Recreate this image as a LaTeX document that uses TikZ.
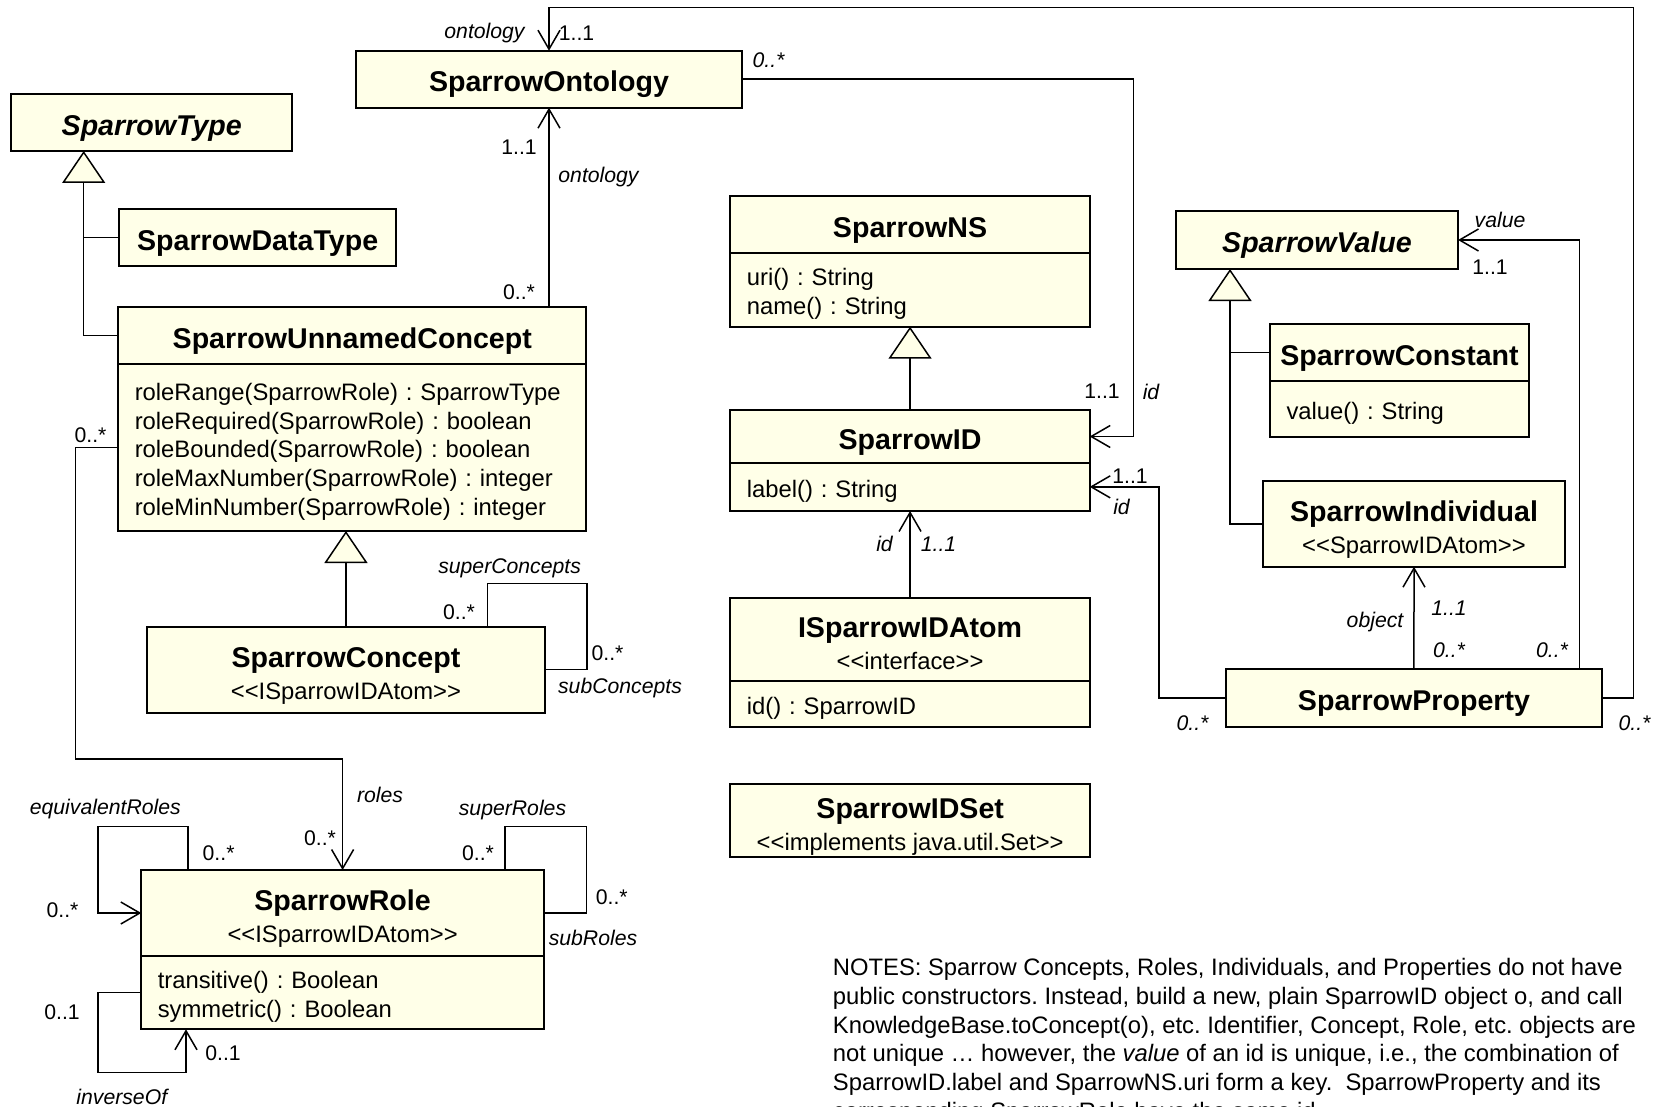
\documentclass[tikz,border=0pt]{standalone}
\usepackage{fontspec}
\setmainfont{Liberation Sans}[Ligatures=TeXOff]
\usetikzlibrary{arrows.meta,positioning}
\definecolor{umlfill}{RGB}{255,255,232}
\newcommand{\umlstereo}[1]{{\fontsize{11.9}{16}\selectfont\mdseries #1}}
\frenchspacing

\begin{document}
\begin{tikzpicture}[x=0.5pt,y=-0.5pt,
    cls/.style={draw,line width=1pt,fill=umlfill,inner sep=0pt,outer sep=0pt,text height=15.7pt,align=center,font=\fontsize{14.3}{16}\selectfont\bfseries},
    cls2/.style={cls,text height=32.3pt},
    ops/.style={draw,line width=1pt,fill=umlfill,inner xsep=8.25pt,inner ysep=0pt,outer sep=0pt,text height=12.8pt,align=left,font=\fontsize{11.9}{14.375}\selectfont},
    conn/.style={line width=0.75pt},
    assoc/.style={conn,-{Straight Barb[length=9.5pt,width=11pt]}},
    gen/.style={conn,-{Triangle[length=16pt,width=21.5pt,fill=umlfill]}},
    uplbl/.style={inner sep=0pt,font=\fontsize{10.6}{12}\selectfont},
    itlbl/.style={inner sep=0pt,font=\fontsize{10.6}{12}\selectfont\itshape}]
    \useasboundingbox (0,0) rectangle (1653,1107);

    \node[cls,minimum width=193.35pt,minimum height=28.5pt] (Ont) at (549,79.2) {SparrowOntology};
    \node[cls,minimum width=140.55pt,minimum height=28.65pt] (Type) at (151.75,122.35) {\itshape SparrowType};
    \node[cls,minimum width=138.75pt,minimum height=28.5pt] (DataType) at (257.65,237.5) {SparrowDataType};
    \node[cls,minimum width=233.95pt,minimum height=28.35pt] (Unnamed) at (352.25,335.65) {SparrowUnnamedConcept};
    \node[ops,below=0pt of Unnamed,text width=217.45pt,minimum height=83.5pt] (UnnamedOps) {roleRange(SparrowRole) : SparrowType\\roleRequired(SparrowRole) : boolean\\roleBounded(SparrowRole) : boolean\\roleMaxNumber(SparrowRole) : integer\\roleMinNumber(SparrowRole) : integer};
    \node[cls2,minimum width=198.65pt,minimum height=43pt] (Concept) at (345.95,669.7) {SparrowConcept\\\umlstereo{<<ISparrowIDAtom>>}};
    \node[cls2,minimum width=201.3pt,minimum height=43pt] (Role) at (342.6,913) {SparrowRole\\\umlstereo{<<ISparrowIDAtom>>}};
    \node[ops,below=0pt of Role,text width=184.8pt,minimum height=36.65pt] (RoleOps) {transitive() : Boolean\\symmetric() : Boolean};

    \node[cls,minimum width=179.65pt,minimum height=28.65pt] (NS) at (910.05,224.65) {SparrowNS};
    \node[ops,below=0pt of NS,text width=163.15pt,minimum height=36.7pt] (NSOps) {uri() : String\\name() : String};
    \node[cls,minimum width=179.65pt,minimum height=26.2pt] (ID) at (910.05,436.5) {SparrowID};
    \node[ops,below=0pt of ID,text width=163.15pt,minimum height=24.15pt] (IDOps) {label() : String};
    \node[cls2,minimum width=179.65pt,minimum height=41.65pt,text height=30.7pt] (Atom) at (910.05,639.35) {ISparrowIDAtom\\\umlstereo{<<interface>>}};
    \node[ops,below=0pt of Atom,text width=163.15pt,minimum height=22.85pt] (AtomOps) {id() : SparrowID};
    \node[cls2,minimum width=179.8pt,minimum height=36.65pt] (IDSet) at (910.2,820.65) {SparrowIDSet\\\umlstereo{<<implements java.util.Set>>}};

    \node[cls,minimum width=141pt,minimum height=29pt] (Value) at (1317,240) {\itshape SparrowValue};
    \node[cls,minimum width=129.5pt,minimum height=28.5pt] (Constant) at (1399.5,352.5) {SparrowConstant};
    \node[ops,below=0pt of Constant,text width=113pt,minimum height=28.15pt] (ConstantOps) {value() : String};
    \node[cls2,minimum width=151pt,minimum height=42.85pt] (Indiv) at (1414,523.85) {SparrowIndividual\\\umlstereo{<<SparrowIDAtom>>}};
    \node[cls,minimum width=187.55pt,minimum height=28.7pt] (Prop) at (1413.95,698) {SparrowProperty};

    \coordinate (TypeFoot) at (83.7,151);
    \coordinate (ValueFoot) at (1230,269);
    \coordinate (IDLane) at (1133.4,0);
    \coordinate (PropLane) at (1159,0);
    \coordinate (ValueLane) at (1579.6,0);
    \coordinate (TopRight) at (1633.7,7.3);
    \coordinate (RoleBend) at (75.5,759);
    \coordinate (SupCA) at (487.5,583.3);
    \coordinate (SupCB) at (587,583.3);
    \coordinate (EqA) at (187.8,826.7);
    \coordinate (EqB) at (98,826.7);
    \coordinate (SupRA) at (505,826.7);
    \coordinate (SupRB) at (586.7,826.7);
    \coordinate (InvA) at (98,1072.3);
    \coordinate (InvB) at (186,1072.3);

    \draw[gen] (Unnamed.west) -| (TypeFoot);
    \draw[conn] (DataType.west) -- (DataType.west -| TypeFoot);
    \draw[gen] (Concept.north) -- (Concept.north |- UnnamedOps.south);
    \draw[assoc] (Unnamed.north -| Ont.south) -- (Ont.south);
    \draw[assoc] (Prop.east) -| (TopRight) -| (Ont.north);
    \draw[assoc] (Ont.east) -| (IDLane |- ID.east) -- (ID.east);
    \draw[assoc] (Prop.west) -| (PropLane |- IDOps.east) -- (IDOps.east);
    \draw[assoc] (Atom.north) -- (IDOps.south);
    \draw[gen] (ID.north) -- (NSOps.south);
    \draw[gen] (Indiv.west) -| (ValueFoot);
    \draw[conn] (Constant.west) -- (Constant.west -| ValueFoot);
    \draw[assoc] (Prop.north) -- (Indiv.south);
    \draw[assoc] (Prop.north -| ValueLane) |- (Value.east);
    \draw[assoc] (UnnamedOps.west) -| (RoleBend) -| (Role.north);
    \draw[conn] (Concept.north -| SupCA) -- (SupCA) -- (SupCB) |- (Concept.east);
    \draw[assoc] (Role.north -| EqA) -- (EqA) -- (EqB) |- (Role.west);
    \draw[conn] (Role.north -| SupRA) -- (SupRA) -- (SupRB) |- (Role.east);
    \draw[assoc] (RoleOps.west) -| (InvA) -- (InvB) -- (InvB |- RoleOps.south);

    \node[itlbl] (OntTopRole) at (484.5,33) {ontology};
    \node[uplbl] (OntTopMult) at (576.5,33) {1..1};
    \node[itlbl] (OntRightMult) at (768.5,60) {0..*};
    \node[uplbl] (OntBotMult) at (519,147) {1..1};
    \node[itlbl] (OntBotRole) at (598.5,177) {ontology};
    \node[uplbl] (UnnamedTopMult) at (519,292) {0..*};
    \node[uplbl] (UnnamedLeftMult) at (90.5,435) {0..*};
    \node[itlbl] (SupCRole) at (509.6,568) {superConcepts};
    \node[uplbl] (SupCMult) at (459,611.7) {0..*};
    \node[uplbl] (SubCMult) at (607.5,653) {0..*};
    \node[itlbl] (SubCRole) at (620,688) {subConcepts};
    \node[itlbl] (RolesRole) at (380,795) {roles};
    \node[uplbl] (RolesMult) at (320,838) {0..*};
    \node[itlbl] (EqRole) at (105.3,809) {equivalentRoles};
    \node[uplbl] (EqMultA) at (218.6,853) {0..*};
    \node[uplbl] (EqMultB) at (62.5,910) {0..*};
    \node[itlbl] (SupRRole) at (512.5,810) {superRoles};
    \node[uplbl] (SupRMult) at (478,853) {0..*};
    \node[uplbl] (SubRMult) at (611.8,896.7) {0..*};
    \node[itlbl] (SubRRole) at (593,938) {subRoles};
    \node[uplbl] (InvMultA) at (62,1011.7) {0..1};
    \node[uplbl] (InvMultB) at (223,1053) {0..1};
    \node[itlbl] (InvRole) at (121.8,1096.7) {inverseOf};
    \node[uplbl] (IDTopMult) at (1102,391.7) {1..1};
    \node[itlbl] (IDTopRole) at (1151,391.7) {id};
    \node[uplbl] (IDRightMult) at (1130,476.7) {1..1};
    \node[itlbl] (IDRightRole) at (1121.5,506.7) {id};
    \node[itlbl] (PropLeftMult) at (1192.5,723.3) {0..*};
    \node[itlbl] (AtomRole) at (884.5,544) {id};
    \node[itlbl] (AtomMult) at (938.5,544) {1..1};
    \node[itlbl] (ValueRole) at (1500,220) {value};
    \node[uplbl] (ValueMult) at (1490,267) {1..1};
    \node[itlbl] (ObjRole) at (1375,621.7) {object};
    \node[itlbl] (ObjMultA) at (1449,608.3) {1..1};
    \node[itlbl] (ObjMultB) at (1449,650) {0..*};
    \node[itlbl] (ValueMultB) at (1552,650) {0..*};
    \node[itlbl] (PropRightMult) at (1634.5,723.3) {0..*};

    \node[anchor=north west,inner sep=0pt,align=left,font=\fontsize{11.9}{14.35}\selectfont] (Notes) at (832.5,958) {NOTES: Sparrow Concepts, Roles, Individuals, and Properties do not have\\public constructors. Instead, build a new, plain SparrowID object o, and call\\KnowledgeBase.toConcept(o), etc. Identifier, Concept, Role, etc. objects are\\not unique … however, the \textit{value} of an id is unique, i.e., the combination of\\SparrowID.label and SparrowNS.uri form a key.\ \ SparrowProperty and its\\corresponding SparrowRole have the same id.};
\end{tikzpicture}
\end{document}
